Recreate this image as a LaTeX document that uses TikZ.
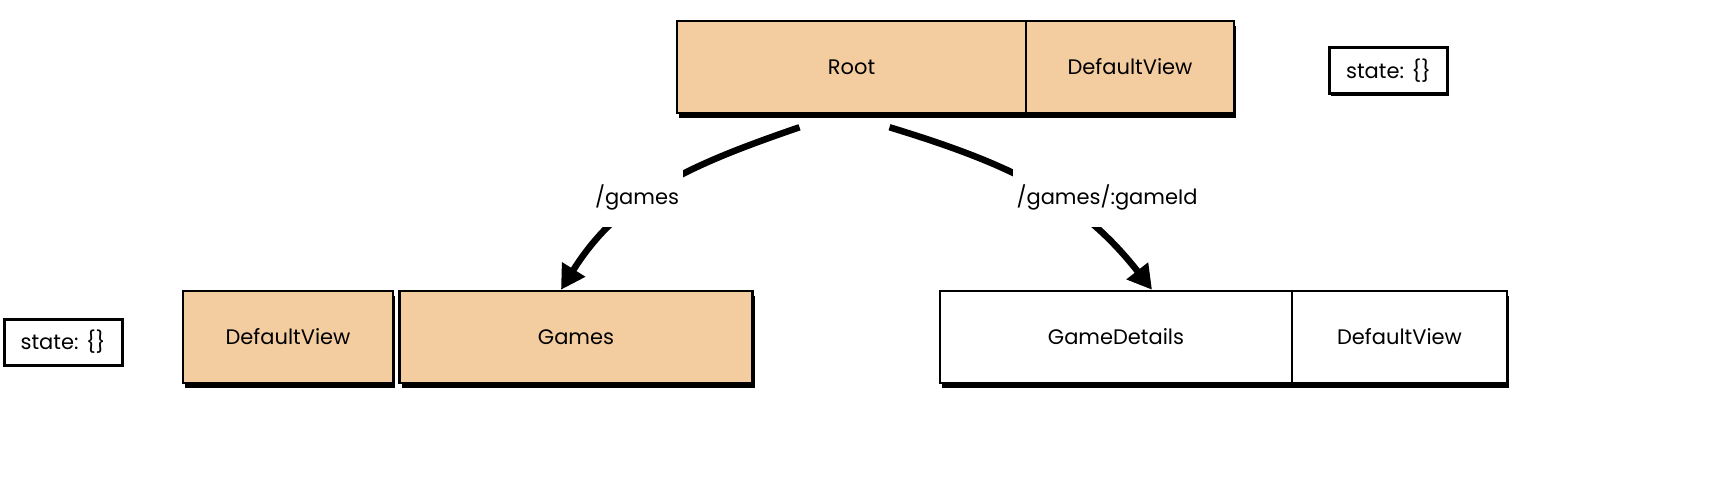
\documentclass[tikz,border=0pt]{standalone}
\usepackage{fontspec}
\setmainfont{Poppins}
\usetikzlibrary{positioning,shadows,arrows.meta}

\definecolor{routefill}{RGB}{243,204,160}

\tikzset{every node/.style={font=\fontsize{21}{25}\selectfont}}
\tikzset{
  box/.style={rectangle, draw=black, line width=2.5pt, minimum height=92pt, inner sep=0pt,
    drop shadow={fill=black, opacity=1, shadow xshift=2pt, shadow yshift=-4.5pt}},
  active/.style={box, fill=routefill},
  idle/.style={box, fill=white},
  statebox/.style={rectangle, draw=black, line width=3pt, fill=white, minimum width=118pt,
    minimum height=46pt, inner sep=0pt,
    drop shadow={fill=black, opacity=1, shadow xshift=1.5pt, shadow yshift=-2pt}},
  route/.style={line width=6.5pt, -{Triangle[length=24pt,width=26pt]}},
  routelabel/.style={fill=white, minimum height=60pt, inner xsep=4pt}
}

\begin{document}
\begin{tikzpicture}[x=1pt,y=1pt]
	\useasboundingbox (0,0) rectangle (1712,-490);

	% top level
	\node[active, minimum width=349pt] (root) at (851.5,-67) {Root};
	\node[active, minimum width=208pt, right=-2.5pt of root] (rootview) {DefaultView};
	\node[statebox] (rootstate) at (1388.5,-70.5) {state: \{\}};

	% children
	\node[statebox] (gamesstate) at (63,-342) {state: \{\}};
	\node[active, minimum width=210pt] (gamesview) at (288,-337) {DefaultView};
	\node[active, minimum width=353pt, right=4pt of gamesview] (games) {Games};

	\node[idle, minimum width=352pt] (details) at (1116,-337) {GameDetails};
	\node[idle, minimum width=215pt, right=-2.5pt of details] (detailsview) {DefaultView};

	% routes
	\draw[route] ([xshift=-52pt,yshift=-13pt]root.south) to[out=199,in=58] ([xshift=-15pt]games.north);
	\draw[route] ([xshift=38pt,yshift=-13pt]root.south) to[out=343,in=128] ([xshift=36pt]details.north);

	\node[routelabel] (gameslabel) at (637,-197) {/games};
	\node[routelabel] (detailslabel) at (1107,-197) {/games/:gameId};
\end{tikzpicture}
\end{document}
